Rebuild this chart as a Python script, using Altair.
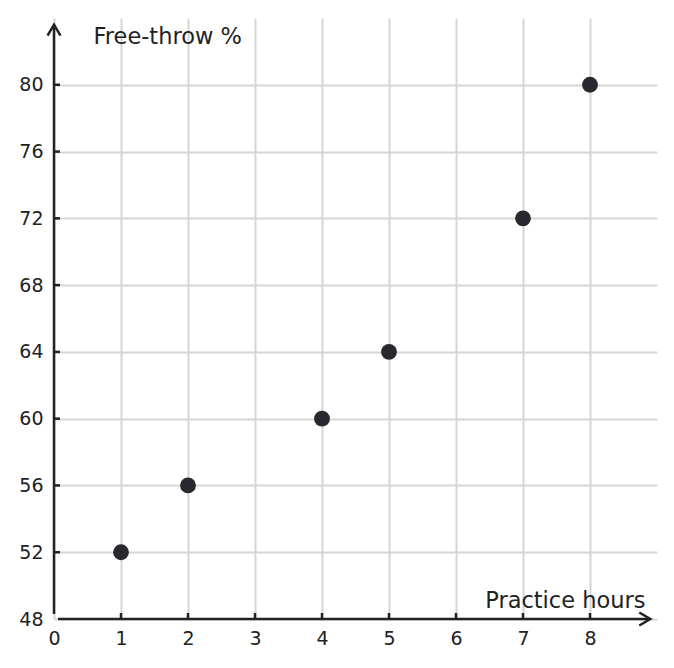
import altair as alt
import pandas as pd

# data
hours = [1, 2, 4, 5, 7, 8]
free_throw = [52, 56, 60, 64, 72, 80]
x_ticks = [0, 1, 2, 3, 4, 5, 6, 7, 8]
y_ticks = [48, 52, 56, 60, 64, 68, 72, 76, 80]
x_title = "Practice hours"
y_title = "Free-throw %"

X_MAX, Y_MIN, Y_MAX = 9, 48, 84
INK = "#222222"
FONT = "DejaVu Sans"

df = pd.DataFrame({"h": hours, "p": free_throw})

xs = alt.Scale(domain=[0, X_MAX], nice=False, zero=False)
ys = alt.Scale(domain=[Y_MIN, Y_MAX], nice=False, zero=False)

base = alt.Chart(df)

points = base.mark_circle(size=250, color="#28282e", opacity=1).encode(
    x=alt.X("h:Q", scale=xs, axis=alt.Axis(
        values=x_ticks, format="d", domain=False, ticks=False, grid=True,
        gridColor="#d6d6d6", gridWidth=2,
        labelFont=FONT, labelFontSize=19, labelColor=INK, labelPadding=10,
        labelFlush=False,
        title=x_title, titleFont=FONT, titleFontSize=22.5, titleFontWeight="normal",
        titleColor=INK, titleAlign="right", titleBaseline="alphabetic",
        titleX=591, titleY=-12, titleAnchor="end")),
    y=alt.Y("p:Q", scale=ys, axis=alt.Axis(
        values=y_ticks, format="d", domain=False, ticks=False, grid=True,
        gridColor="#d6d6d6", gridWidth=2,
        labelFont=FONT, labelFontSize=19, labelColor=INK, labelPadding=11,
        labelFlush=False,
        title=y_title, titleFont=FONT, titleFontSize=22.5, titleFontWeight="normal",
        titleColor=INK, titleAngle=0, titleAlign="left", titleBaseline="alphabetic",
        titleX=39, titleY=25)),
)

# axis lines
yaxis = alt.Chart(pd.DataFrame({"x": [0], "y": [48.3], "y2": [83.6]})).mark_rule(
    color=INK, strokeWidth=2.5).encode(
    x=alt.X("x:Q", scale=xs), y=alt.Y("y:Q", scale=ys), y2="y2:Q")
xaxis = alt.Chart(pd.DataFrame({"x": [0.06], "x2": [8.9], "y": [48]})).mark_rule(
    color=INK, strokeWidth=2.5).encode(
    x=alt.X("x:Q", scale=xs), x2="x2:Q", y=alt.Y("y:Q", scale=ys))

chev = "M-1,1.7L0,0L1,1.7"
yarrow = alt.Chart(pd.DataFrame({"x": [0], "y": [83.6]})).mark_point(
    shape=chev, size=169, filled=False, stroke=INK, strokeWidth=2.5, opacity=1).encode(
    x=alt.X("x:Q", scale=xs), y=alt.Y("y:Q", scale=ys))
xarrow = alt.Chart(pd.DataFrame({"x": [8.9], "y": [48]})).mark_point(
    shape=chev, size=169, filled=False, stroke=INK, strokeWidth=2.5, opacity=1, angle=90).encode(
    x=alt.X("x:Q", scale=xs), y=alt.Y("y:Q", scale=ys))

# inward ticks
yt = alt.Chart(pd.DataFrame({"y": y_ticks[1:]})).mark_rule(color=INK, strokeWidth=2.5).encode(
    y=alt.Y("y:Q", scale=ys), x=alt.value(0), x2=alt.value(6))
xt = alt.Chart(pd.DataFrame({"x": x_ticks[1:]})).mark_rule(color=INK, strokeWidth=2.5).encode(
    x=alt.X("x:Q", scale=xs), y=alt.value(601), y2=alt.value(595))

chart = alt.layer(points, yt, xt, yaxis, xaxis, yarrow, xarrow).properties(
    width=603, height=601,
    background="white",
    autosize=alt.AutoSizeParams(type="none"),
    padding={"left": 46, "top": 10, "right": 5, "bottom": 30},
).configure_view(stroke=None)

chart.save("out.html", embed_options={"renderer": "svg", "actions": False})
